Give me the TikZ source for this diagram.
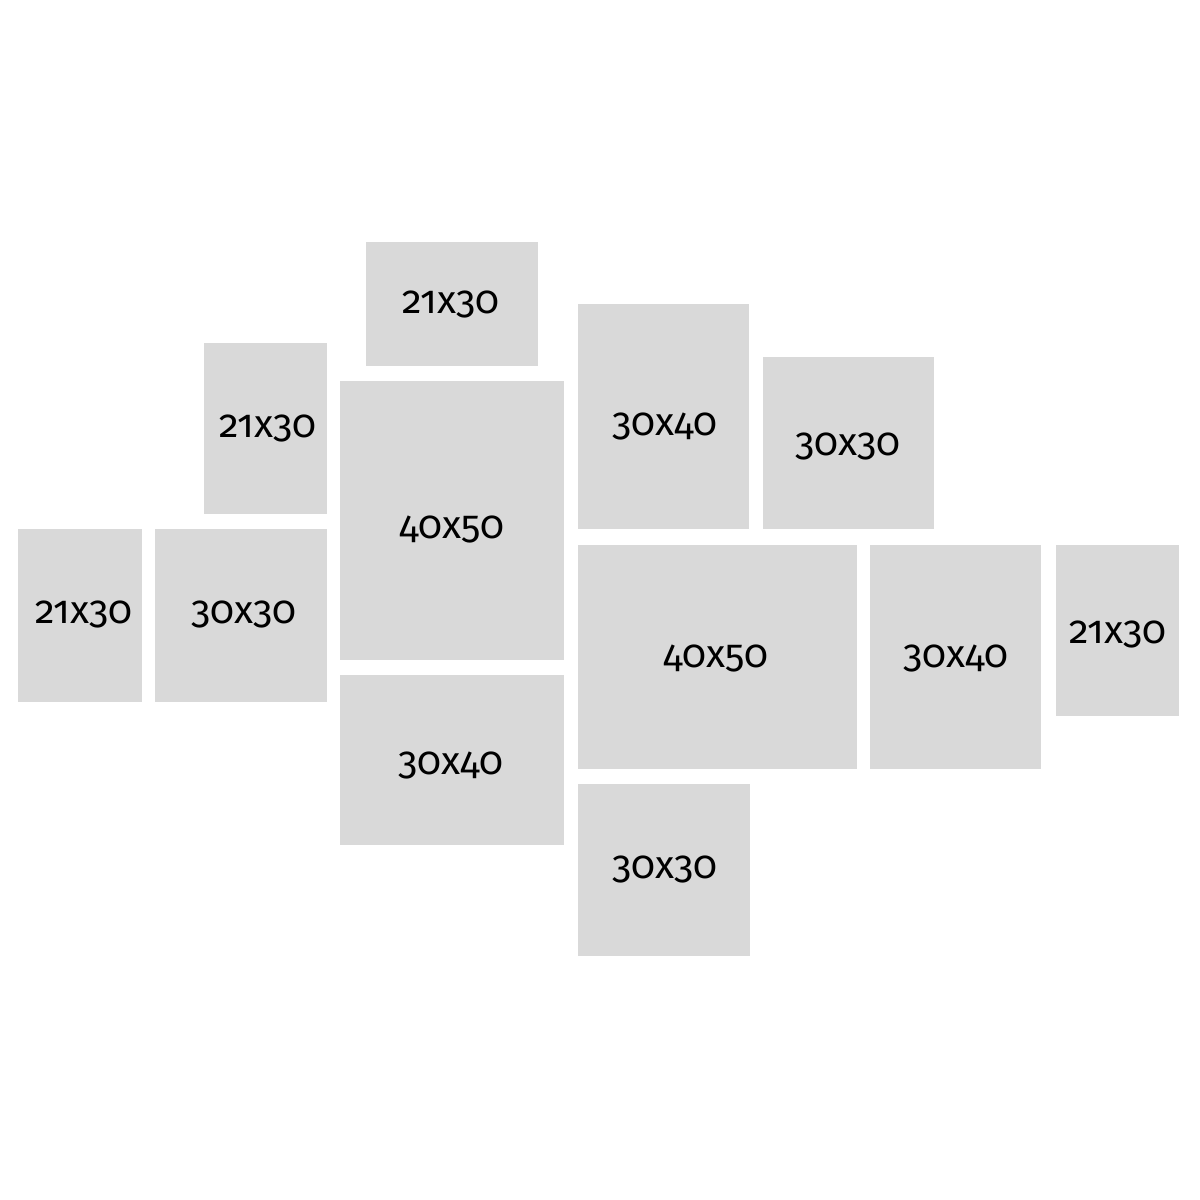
\documentclass[tikz,border=0pt]{standalone}
\usepackage{fontspec}
\setmainfont{Fira Sans}[Numbers=OldStyle]
\begin{document}
\begin{tikzpicture}[x=0.01cm,y=-0.01cm,
  frame/.style={fill=boxgray,draw=none,inner sep=0pt,outer sep=0pt},
  lbl/.style={anchor=base,inner sep=0pt,font=\fontsize{11.2}{13}\selectfont,text=black}]
\definecolor{boxgray}{HTML}{D9D9D9}
\useasboundingbox[fill=white] (0,0) rectangle (1200,1200);
% frames
\node[frame,minimum width=1.72cm,minimum height=1.24cm] (f1) at (452,304) {};
\node[frame,minimum width=1.23cm,minimum height=1.71cm] (f2) at (265.5,428.5) {};
\node[frame,minimum width=2.24cm,minimum height=2.79cm] (f3) at (452,520.5) {};
\node[frame,minimum width=1.71cm,minimum height=2.25cm] (f4) at (663.5,416.5) {};
\node[frame,minimum width=1.71cm,minimum height=1.72cm] (f5) at (848.5,443) {};
\node[frame,minimum width=1.24cm,minimum height=1.72cm] (f6) at (80,615.5) {};
\node[frame,minimum width=1.72cm,minimum height=1.72cm] (f7) at (241,615.5) {};
\node[frame,minimum width=2.24cm,minimum height=1.70cm] (f8) at (452,760) {};
\node[frame,minimum width=2.79cm,minimum height=2.24cm] (f9) at (717.5,657) {};
\node[frame,minimum width=1.71cm,minimum height=2.24cm] (f10) at (955.5,657) {};
\node[frame,minimum width=1.23cm,minimum height=1.71cm] (f11) at (1117.5,630.5) {};
\node[frame,minimum width=1.72cm,minimum height=1.72cm] (f12) at (664,870) {};
% labels
\node[lbl] (t1) at (451,313) {21x30};
\node[lbl] (t2) at (268,437) {21x30};
\node[lbl] (t3) at (452,538) {40x50};
\node[lbl] (t4) at (665,435) {30x40};
\node[lbl] (t5) at (848,455) {30x30};
\node[lbl] (t6) at (84,623) {21x30};
\node[lbl] (t7) at (244,623) {30x30};
\node[lbl] (t8) at (451,774) {30x40};
\node[lbl] (t9) at (716,667) {40x50};
\node[lbl] (t10) at (956,667) {30x40};
\node[lbl] (t11) at (1118,643) {21x30};
\node[lbl] (t12) at (665,878) {30x30};
\end{tikzpicture}
\end{document}
